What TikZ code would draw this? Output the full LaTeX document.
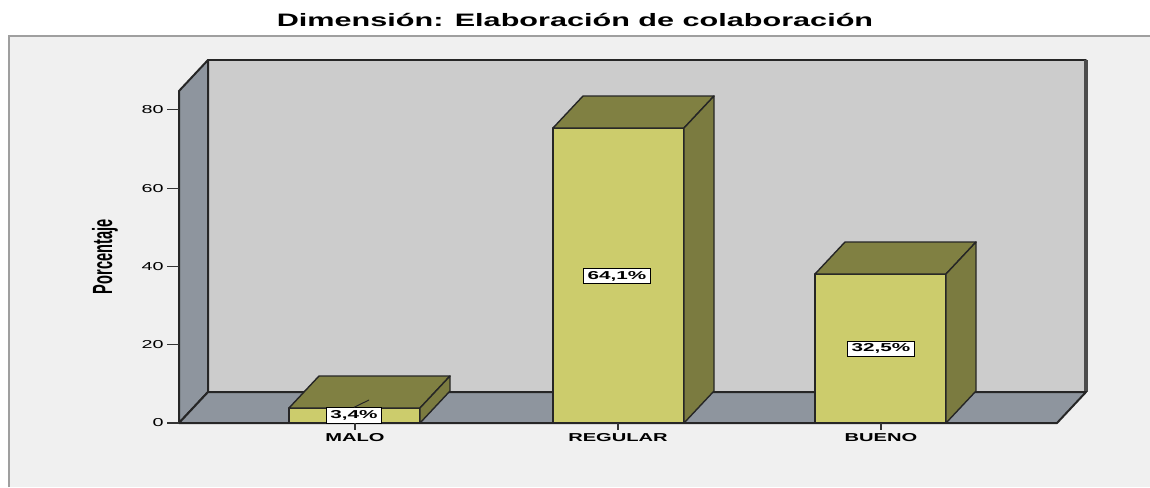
\documentclass[tikz,border=0pt]{standalone}
\usepackage{fontspec}
\setmainfont{Liberation Sans}
\usepackage{graphicx}
\usepackage{xcolor}

\definecolor{framebg}{HTML}{F0F0F0}
\definecolor{wallback}{HTML}{CCCCCC}
\definecolor{wallside}{HTML}{8E959E}
\definecolor{barfront}{HTML}{CCCC6C}
\definecolor{bartop}{HTML}{808042}
\definecolor{barside}{HTML}{7B7B40}
\newcommand{\wide}[2]{\scalebox{#1}[1]{#2}}

\tikzset{
  ticklab/.style={anchor=east, inner sep=0pt, font=\fontsize{5.75}{6}\selectfont},
  catlab/.style={anchor=north, inner sep=0pt, font=\bfseries\fontsize{5.75}{6}\selectfont},
  vallab/.style={draw, fill=white, line width=0.5pt, inner xsep=2pt, inner ysep=1.4pt, font=\bfseries\fontsize{5.75}{6}\selectfont},
  wall/.style={draw=black!85, line width=1pt, line join=round},
  barline/.style={draw=black!85, line width=0.7pt, line join=round},
}

\begin{document}
\begin{tikzpicture}[x=0.5pt,y=-0.5pt]
\useasboundingbox (0,0) rectangle (1150,487);
\fill[white] (0,0) rectangle (1150,487);
\fill[framebg] (9,36) rectangle (1150,487);
\draw[gray!75, line width=1pt] (9,487) -- (9,36) -- (1150,36);

\node[font=\bfseries\fontsize{9}{10}\selectfont] (title) at (575,20) {\wide{1.7}{Dimensión: Elaboración de colaboración}};

\filldraw[fill=wallback, wall] (208,392) -- (208,60) -- (1086,60) -- (1086,392);
\draw[black!70, line width=1.8pt] (1086,60) -- (1086,392);
\filldraw[fill=wallside, wall] (179,423) -- (179,91) -- (208,60) -- (208,392) -- cycle;
\filldraw[fill=wallside, wall] (179,423) -- (208,392) -- (1086,392) -- (1057,423) -- cycle;

\foreach \v/\y in {0/423, 20/344.7, 40/266.4, 60/188.1, 80/109.8} {
  \draw[black!80, line width=0.6pt] (167,\y) -- (179,\y);
  \node[ticklab] (tick\v) at (164,\y) {\wide{1.72}{\v}};
}
\node[rotate=90, font=\bfseries\fontsize{7.3}{8}\selectfont] (ylab) at (105,257) {\scalebox{1}[1.9]{Porcentaje}};

\foreach \xa/\yt in {289/408, 553/128, 815/274} {
  \filldraw[fill=barfront, barline] (\xa,\yt) rectangle (\xa+131,423);
  \filldraw[fill=bartop, barline] (\xa,\yt) -- (\xa+30,\yt-32) -- (\xa+161,\yt-32) -- (\xa+131,\yt) -- cycle;
  \filldraw[fill=barside, barline] (\xa+131,\yt) -- (\xa+161,\yt-32) -- (\xa+161,391) -- (\xa+131,423) -- cycle;
}

\node[vallab] (vmalo) at (354,415.5) {\wide{1.8}{3,4\%}};
\coordinate (topmalo) at (369,400);
\draw[black!85, line width=0.5pt] (vmalo.north) -- (topmalo);
\node[vallab] (vregular) at (617,276) {\wide{1.8}{64,1\%}};
\node[vallab] (vbueno) at (881,348.7) {\wide{1.8}{32,5\%}};

\draw[black!80, line width=0.6pt] (355,423) -- (355,430);
\draw[black!80, line width=0.6pt] (618,423) -- (618,430);
\draw[black!80, line width=0.6pt] (881,423) -- (881,430);
\node[catlab] (cmalo) at (355,433) {\wide{1.75}{MALO}};
\node[catlab] (cregular) at (618,433) {\wide{1.75}{REGULAR}};
\node[catlab] (cbueno) at (881,433) {\wide{1.75}{BUENO}};
\end{tikzpicture}
\end{document}
